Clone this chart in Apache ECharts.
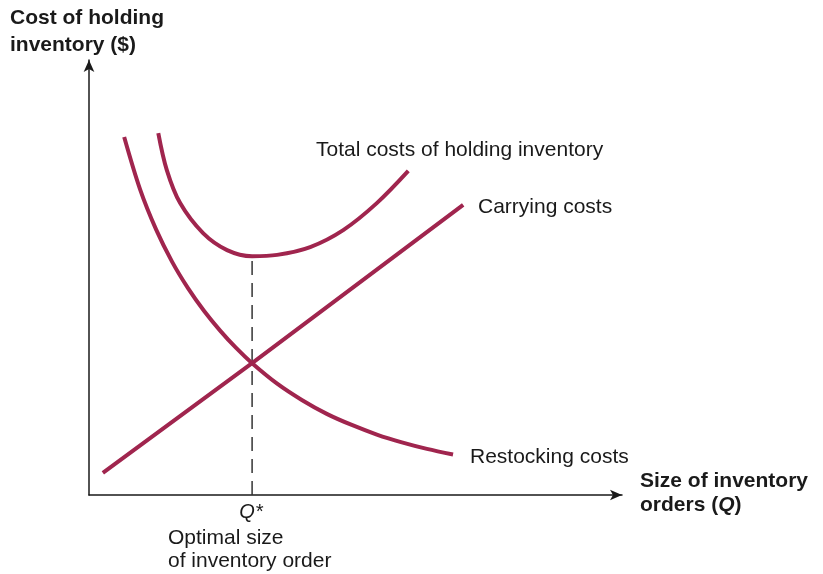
<!DOCTYPE html>
<html>
<head>
<meta charset="utf-8">
<script src="https://cdn.jsdelivr.net/npm/echarts@6/dist/echarts.min.js"></script>
<style>
  html, body { margin: 0; padding: 0; background: #fff; }
  #chart { width: 823px; height: 574px; }
</style>
</head>
<body>
<div id="chart"></div>
<script>
// Order size Q (x) and cost (y), in relative units
const restockingQ    = [6.6, 9.6, 12.6, 15.6, 18.6, 21.6, 24.6, 27.6, 30.6, 35.3, 40.0, 44.7, 49.3, 54.0, 58.7, 63.4, 68.3];
const restockingCost = [82.3, 70.2, 61.0, 53.6, 47.5, 42.3, 37.8, 33.8, 30.3, 25.6, 21.8, 18.6, 16.1, 13.9, 12.1, 10.6, 9.3];

const totalQ    = [13.0, 14.6, 17.1, 21.4, 25.9, 30.6, 35.3, 41.5, 47.7, 54.0, 59.9];
const totalCost = [83.2, 74.7, 67.1, 60.2, 56.3, 54.9, 55.2, 57.0, 60.9, 67.1, 74.5];

const carryingQ    = [2.6, 30.6, 70.2];
const carryingCost = [5.1, 30.3, 66.7];

const qStar = 30.6;
const qStarTotal = 54.9;

const curveLabels = ['Total costs of holding inventory', 'Carrying costs', 'Restocking costs'];
const yTitle = ['Cost of holding', 'inventory ($)'];
const xTitle = ['Size of inventory', 'orders ('];
const qStarNote = ['Optimal size', 'of inventory order'];

const pairs = (xs, ys) => xs.map((x, i) => [x, ys[i]]);

const curveColor = '#a0254e';
const inkColor = '#1a1a1a';
const font = '"Liberation Sans", Arial, Helvetica, sans-serif';

const chart = echarts.init(document.getElementById('chart'));

const curve = (name, data, smooth) => ({
  name, type: 'line', data, smooth, showSymbol: false, silent: true,
  lineStyle: { color: curveColor, width: 4, cap: 'butt' }
});

const label = (text, x, y, extra) => ({
  type: 'text', x, y,
  style: Object.assign({ text, font: '21px ' + font, fill: inkColor, verticalAlign: 'middle' }, extra || {})
});

chart.setOption({
  animation: false,
  grid: { left: 89, top: 60, width: 533, height: 435 },
  xAxis: {
    type: 'value', min: 0, max: 100,
    axisLine: { lineStyle: { color: inkColor, width: 1.5 }, symbol: ['none', 'arrow'], symbolSize: [8, 12] },
    axisTick: { show: false }, axisLabel: { show: false }, splitLine: { show: false }
  },
  yAxis: {
    type: 'value', min: 0, max: 100,
    axisLine: { show: true, lineStyle: { color: inkColor, width: 1.5 }, symbol: ['none', 'arrow'], symbolSize: [8, 12] },
    axisTick: { show: false }, axisLabel: { show: false }, splitLine: { show: false }
  },
  series: [
    {
      name: 'Q*', type: 'line', data: [[qStar, 0], [qStar, qStarTotal]],
      showSymbol: false, silent: true, z: 1,
      lineStyle: { color: '#333', width: 1.5, type: [14, 8] }
    },
    curve(curveLabels[2], pairs(restockingQ, restockingCost), 0.33),
    curve(curveLabels[0], pairs(totalQ, totalCost), 0.35),
    curve(curveLabels[1], pairs(carryingQ, carryingCost), false)
  ],
  graphic: [
    label(yTitle.join('\n'), 10, 32, { font: 'bold 21px ' + font, lineHeight: 27 }),
    label(xTitle[0], 640, 481, { font: 'bold 21px ' + font }),
    {
      type: 'text', x: 640, y: 505,
      style: {
        text: '{b|' + xTitle[1] + '}{bi|Q}{b|)}',
        verticalAlign: 'middle',
        rich: {
          b: { font: 'bold 21px ' + font, fill: inkColor },
          bi: { font: 'italic bold 21px ' + font, fill: inkColor }
        }
      }
    },
    label(curveLabels[0], 316, 150),
    label(curveLabels[1], 478, 207),
    label(curveLabels[2], 470, 457),
    label('Q*', 251, 512, { font: 'italic 20px ' + font, align: 'center' }),
    label(qStarNote.join('\n'), 168, 550, { lineHeight: 23 })
  ]
});
</script>
</body>
</html>
